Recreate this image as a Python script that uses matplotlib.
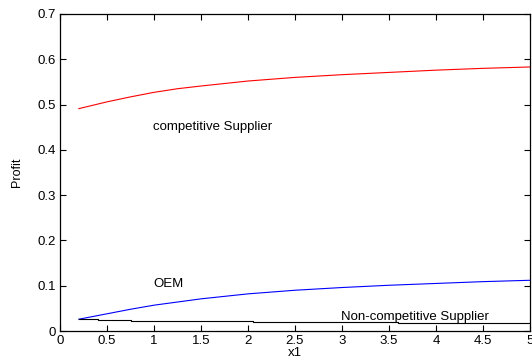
import numpy as np
import matplotlib.pyplot as plt
from matplotlib.ticker import FormatStrFormatter

plt.rcParams['font.family'] = ['Liberation Sans', 'DejaVu Sans']

# values
x1 = [0.2, 0.3, 0.4, 0.5, 0.75, 1.0, 1.25, 1.5, 2.0, 2.5, 3.0, 3.5, 4.0, 4.5, 5.0]
competitive = [0.491, 0.496, 0.501, 0.506, 0.517, 0.527, 0.535, 0.541, 0.552, 0.560, 0.566, 0.571, 0.576, 0.580, 0.583]
oem = [0.026, 0.030, 0.034, 0.038, 0.048, 0.057, 0.064, 0.071, 0.082, 0.090, 0.096, 0.101, 0.105, 0.109, 0.112]

# non-competitive supplier is a staircase
x_nc = [0.2, 0.4, 0.4, 0.75, 0.75, 1.25, 1.25, 2.05, 2.05, 3.6, 3.6, 4.95, 4.95, 5.0]
nc = [0.027, 0.027, 0.025, 0.025, 0.023, 0.023, 0.021, 0.021, 0.020, 0.020, 0.018, 0.018, 0.017, 0.017]

fig = plt.figure(figsize=(5.32, 3.61), dpi=100)
ax = fig.add_axes([60 / 532, 30 / 361, 470 / 532, 317 / 361])

ax.plot(x1, competitive, color='red', lw=0.8)
ax.plot(x1, oem, color='blue', lw=0.8)
ax.plot(x_nc, nc, color='black', lw=0.8)

ax.text(0.99, 0.443, 'competitive Supplier', fontsize=9.5)
ax.text(0.99, 0.098, 'OEM', fontsize=9.5)
ax.text(2.99, 0.024, 'Non-competitive Supplier', fontsize=9.5)

ax.set_xlim(0, 5)
ax.set_ylim(0, 0.7)
ax.set_xticks(np.arange(0, 5.01, 0.5))
ax.set_yticks(np.arange(0, 0.71, 0.1))
ax.xaxis.set_major_formatter(FormatStrFormatter('%g'))
ax.yaxis.set_major_formatter(FormatStrFormatter('%g'))
ax.tick_params(direction='in', top=True, right=True, labelsize=9.5, length=4, width=0.8, pad=3)
for s in ax.spines.values():
    s.set_linewidth(0.9)

ax.set_xlabel('x1', fontsize=9.5, labelpad=0)
ax.set_ylabel('Profit', fontsize=9, labelpad=10)

fig.savefig('out.png', dpi=100)
